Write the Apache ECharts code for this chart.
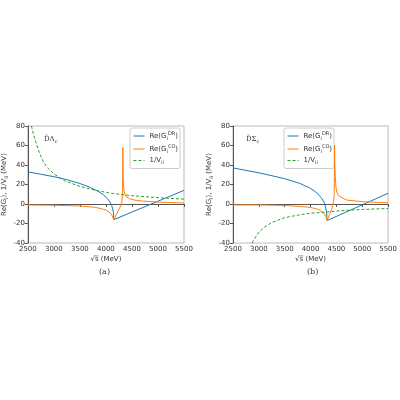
<!DOCTYPE html>
<html>
<head>
<meta charset="utf-8">
<script src="https://cdn.jsdelivr.net/npm/echarts@6/dist/echarts.min.js"></script>
<style>html,body{margin:0;background:#fff}#chart{width:400px;height:400px}</style>
</head>
<body>
<div id="chart"></div>
<script>
// sqrt(s) ticks, MeV
const xTicks = [2500, 3000, 3500, 4000, 4500, 5000, 5500];
const yTicks = [-40, -20, 0, 20, 40, 60, 80];

// (a) DbarLambda_c
const drAX = [2500, 2750, 3000, 3250, 3500, 3700, 3850, 3950, 4030, 4080, 4110, 4130, 4145, 4153, 5500];
const drAY = [33, 30.5, 28, 25, 21, 17, 13, 9.5, 5.5, 2, -1.5, -5, -9, -16, 14];
const coAX = [2500, 3000, 3500, 3800, 4000, 4080, 4120, 4153, 4200, 4246, 4292, 4312, 4320, 4325, 4328, 4333, 4345, 4378, 4450, 4550, 4700, 5000, 5500];
const coAY = [-1, -1.3, -2, -3.5, -6, -9, -12, -16, -11, -6, -1, 4, 15, 58, 40, 25, 14, 8, 5.5, 4, 3, 2, 1];
const vAX = [2570, 2600, 2650, 2700, 2750, 2800, 2900, 3000, 3200, 3500, 3800, 4100, 4500, 5000, 5500];
const vAY = [80, 73, 64, 56, 49, 43, 36, 31, 24, 18, 14, 11, 8.5, 6.5, 5];

// (b) DbarSigma_c
const drBX = [2500, 3000, 3500, 3800, 4000, 4100, 4200, 4260, 4290, 4310, 4320, 5500];
const drBY = [37, 32, 26, 21, 16, 12.5, 7, 2, -3, -8, -17, 11];
const coBX = [2500, 3000, 3500, 3800, 4000, 4150, 4250, 4300, 4320, 4370, 4415, 4446, 4458, 4465, 4470, 4478, 4490, 4510, 4540, 4573, 4700, 5000, 5500];
const coBY = [-1, -1, -1.5, -2.5, -3.5, -5.5, -9, -13, -17, -10, -4.4, 2.4, 10, 60, 40, 28, 18, 12, 8.5, 7, 4, 2.4, 1.2];
const vBX = [2870, 2900, 3000, 3100, 3250, 3500, 3750, 4000, 4300, 4600, 5000, 5500];
const vBY = [-40, -37, -29, -24, -19, -14, -11.5, -9.5, -8.3, -6.8, -5.6, -4.6];

const zip = (xs, ys) => xs.map((x, i) => [x, ys[i]]);

const blue = '#1f77b4', orange = '#ff7f0e', green = '#2ca02c';
const font = 'DejaVu Sans';
const labels = {
  DR: 'Re(G{sub|i}{sup|DR})',
  CO: 'Re(G{sub|i}{sup|CO})',
  V: '1/V{sub|ii}'
};
const rich = {
  sub: { fontSize: 5, fontFamily: font, color: '#333', padding: [5, 0, 0, 0] },
  sup: { fontSize: 5, fontFamily: font, color: '#333', padding: [0, 0, 5, 0] }
};

function xAx(gi) {
  return {
    type: 'value', gridIndex: gi, min: xTicks[0], max: xTicks[xTicks.length - 1], interval: 500,
    name: '\u221As\u0305 (MeV)', nameLocation: 'middle', nameGap: 13,
    nameTextStyle: { fontSize: 7, fontFamily: font, color: '#333' },
    axisLine: { lineStyle: { color: '#555', width: 1 } },
    axisTick: { length: 3, lineStyle: { color: '#555' } },
    axisLabel: { fontSize: 7, fontFamily: font, color: '#333', margin: 3, formatter: v => String(v) },
    splitLine: { show: false }
  };
}
function yAx(gi) {
  return {
    type: 'value', gridIndex: gi, min: yTicks[0], max: yTicks[yTicks.length - 1], interval: 20,
    name: 'Re(G{sub|i}), 1/V{sub|ii} (MeV)', nameLocation: 'middle', nameGap: 17,
    nameTextStyle: { fontSize: 7, fontFamily: font, color: '#333', rich: rich },
    axisLine: { show: true, lineStyle: { color: '#555', width: 1 } },
    axisTick: { show: true, length: 3, lineStyle: { color: '#555' } },
    axisLabel: { fontSize: 7, fontFamily: font, color: '#333', margin: 3, formatter: v => String(v) },
    splitLine: { show: false }
  };
}
function line(name, data, gi, color, dashed) {
  return {
    name: name, type: 'line', xAxisIndex: gi, yAxisIndex: gi, data: data,
    symbol: 'none', showSymbol: false, smooth: false, clip: true, z: 5,
    lineStyle: { color: color, width: 1, type: dashed ? [3, 2] : 'solid' },
    itemStyle: { color: color }
  };
}
function legend(left) {
  return {
    orient: 'vertical', left: left, top: 128, data: ['DR', 'CO', 'V'], z: 4,
    backgroundColor: '#fff', borderColor: '#ccc', borderWidth: 1, borderRadius: 2,
    padding: [3, 2, 3, 3], itemGap: 3, itemWidth: 11, itemHeight: 8,
    itemStyle: { opacity: 0 },
    lineStyle: { width: 1 },
    formatter: n => labels[n],
    textStyle: { fontSize: 7, fontFamily: font, color: '#333', rich: rich }
  };
}

const chart = echarts.init(document.getElementById('chart'));
chart.setOption({
  animation: false,
  backgroundColor: '#fff',
  grid: [
    { left: 26, right: 216, top: 126, bottom: 157, show: true, borderColor: '#bbb', borderWidth: 1 },
    { left: 233, right: 8, top: 126, bottom: 157, show: true, borderColor: '#bbb', borderWidth: 1 }
  ],
  xAxis: [xAx(0), xAx(1)],
  yAxis: [yAx(0), yAx(1)],
  legend: [legend(130), legend(284)],
  series: [
    line('DR', zip(drAX, drAY), 0, blue),
    line('CO', zip(coAX, coAY), 0, orange),
    line('V', zip(vAX, vAY), 0, green, true),
    line('DR', zip(drBX, drBY), 1, blue),
    line('CO', zip(coBX, coBY), 1, orange),
    line('V', zip(vBX, vBY), 1, green, true)
  ],
  graphic: [
    { type: 'text', left: 44, top: 136, style: { text: 'D\u0304\u039B{s|c}', font: '7px "DejaVu Serif"', fill: '#333', rich: { s: { fontSize: 5, fontFamily: 'DejaVu Serif', padding: [4, 0, 0, 0] } } } },
    { type: 'text', left: 246, top: 136, style: { text: 'D\u0304\u03A3{s|c}', font: '7px "DejaVu Serif"', fill: '#333', rich: { s: { fontSize: 5, fontFamily: 'DejaVu Serif', padding: [4, 0, 0, 0] } } } },
    { type: 'text', left: 99, top: 268, style: { text: '(a)', font: '8px "DejaVu Serif"', fill: '#333' } },
    { type: 'text', left: 307, top: 268, style: { text: '(b)', font: '8px "DejaVu Serif"', fill: '#333' } }
  ]
});
</script>
</body>
</html>
